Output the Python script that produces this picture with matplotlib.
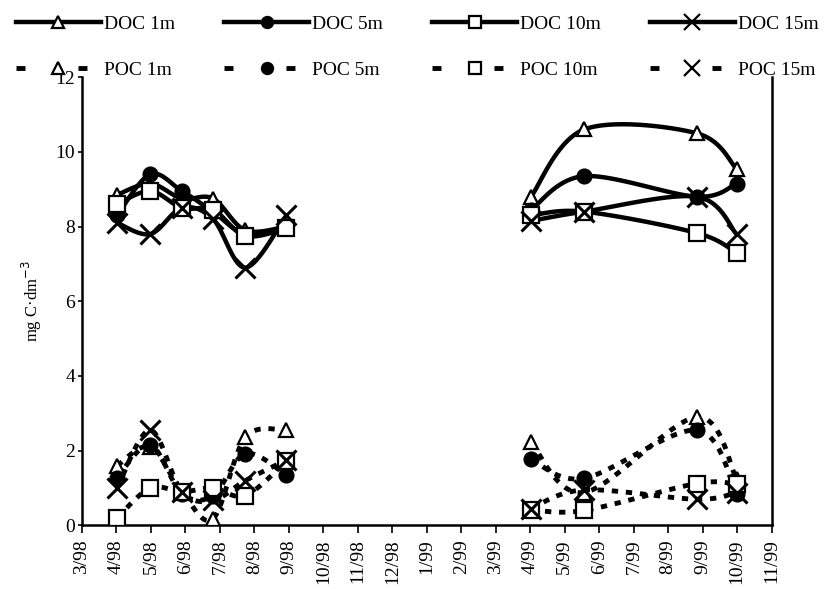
import numpy as np
import matplotlib
matplotlib.use('Agg')
import matplotlib.pyplot as plt
from matplotlib.lines import Line2D

# ---------------------------------------------------------
# Data (month index: 0 = 3/98 ... 20 = 11/99)
# first 6 samples are 1998, last 4 are 1999
# ---------------------------------------------------------
months = [1.02, 1.98, 2.9, 3.8, 4.74, 5.93, 13.02, 14.56, 17.82, 18.98]
split = 6

doc_1m = [8.85, 9.15, 8.75, 8.75, 7.9, 8.0, 8.8, 10.6, 10.5, 9.55]
doc_5m = [8.3, 9.4, 8.95, 8.4, 7.8, 8.0, 8.45, 9.35, 8.8, 9.15]
doc_10m = [8.6, 8.95, 8.5, 8.45, 7.75, 7.95, 8.3, 8.4, 7.83, 7.3]
doc_15m = [8.1, 7.8, 8.5, 8.2, 6.9, 8.3, 8.15, 8.4, 8.8, 7.8]

poc_1m = [1.6, 2.1, 0.9, 0.18, 2.36, 2.55, 2.22, 0.88, 2.9, 1.25]
poc_5m = [1.28, 2.15, 0.85, 0.8, 1.92, 1.35, 1.78, 1.26, 2.55, 0.85]
poc_10m = [0.2, 1.0, 0.9, 1.0, 0.8, 1.72, 0.42, 0.4, 1.12, 1.1]
poc_15m = [1.0, 2.55, 0.9, 0.67, 1.2, 1.75, 0.45, 0.95, 0.7, 0.88]

tick_labels = ['3/98', '4/98', '5/98', '6/98', '7/98', '8/98', '9/98', '10/98',
               '11/98', '12/98', '1/99', '2/99', '3/99', '4/99', '5/99', '6/99',
               '7/99', '8/99', '9/99', '10/99', '11/99']


def smooth(x, y, n=25):
    # Excel-like smoothed line: cubic Bezier between points
    pts = np.column_stack([x, y])
    out = []
    for i in range(len(pts) - 1):
        p0 = pts[max(i - 1, 0)]
        p1 = pts[i]
        p2 = pts[i + 1]
        p3 = pts[min(i + 2, len(pts) - 1)]
        c1 = p1 + (p2 - p0) / 6
        c2 = p2 - (p3 - p1) / 6
        t = np.linspace(0, 1, n)[:, None]
        seg = (1 - t) ** 3 * p1 + 3 * (1 - t) ** 2 * t * c1 + 3 * (1 - t) * t ** 2 * c2 + t ** 3 * p2
        out.append(seg if i == 0 else seg[1:])
    return np.vstack(out)


plt.rcParams['font.family'] = ['Liberation Serif', 'DejaVu Serif']

fig = plt.figure(figsize=(8.28, 5.89), dpi=100)
ax = fig.add_axes([0.099, 0.108, 0.833, 0.761])

series = [
    ('DOC 1m', doc_1m, '^', 'white', 10, 'solid'),
    ('DOC 5m', doc_5m, 'o', 'black', 10, 'solid'),
    ('DOC 10m', doc_10m, 's', 'white', 11, 'solid'),
    ('DOC 15m', doc_15m, 'x', 'black', 15, 'solid'),
    ('POC 1m', poc_1m, '^', 'white', 10, 'dashed'),
    ('POC 5m', poc_5m, 'o', 'black', 10, 'dashed'),
    ('POC 10m', poc_10m, 's', 'white', 11, 'dashed'),
    ('POC 15m', poc_15m, 'x', 'black', 15, 'dashed'),
]

x = np.array(months)
handles = {}
for name, vals, mk, fc, ms, style in series:
    v = np.array(vals)
    for sl in (slice(0, split), slice(split, None)):
        curve = smooth(x[sl], v[sl])
        if style == 'solid':
            ax.plot(curve[:, 0], curve[:, 1], color='black', lw=3.2,
                    solid_capstyle='round', zorder=2)
        else:
            ax.plot(curve[:, 0], curve[:, 1], color='black', lw=3.5,
                    linestyle=(0, (1.3, 1.6)), dash_capstyle='butt', zorder=2)
        ax.plot(x[sl], v[sl], linestyle='none', marker=mk, markersize=ms,
                markerfacecolor=fc, markeredgecolor='black',
                markeredgewidth=2.2 if mk == 'x' else 1.6, zorder=3)
    if style == 'solid':
        h = Line2D([], [], color='black', lw=3.2, marker=mk, markersize=ms * 0.8,
                   markerfacecolor=fc, markeredgecolor='black', markeredgewidth=1.6)
    else:
        h = Line2D([], [], color='black', lw=3.5, linestyle=(0, (1.85, 10.9)),
                   dash_capstyle='butt', marker=mk, markersize=ms * 0.8,
                   markerfacecolor=fc, markeredgecolor='black', markeredgewidth=1.6)
    handles[name] = h

# axes styling
ax.set_xlim(0, 20)
ax.set_ylim(0, 12)
ax.set_xticks(range(21))
ax.set_xticklabels(tick_labels, rotation=90, fontsize=14)
ax.set_yticks(range(0, 13, 2))
ax.set_yticklabels([str(v) for v in range(0, 13, 2)], fontsize=14)
ax.tick_params(axis='x', direction='out', length=6, width=1.2, pad=4)
ax.tick_params(axis='y', direction='out', length=3, width=1.2, pad=2)
ax.spines['top'].set_visible(False)
for s in ('left', 'bottom', 'right'):
    ax.spines[s].set_linewidth(1.8)
ax.set_ylabel('mg C·dm$^{-3}$', fontsize=12, labelpad=8)

order = ['DOC 1m', 'POC 1m', 'DOC 5m', 'POC 5m', 'DOC 10m', 'POC 10m', 'DOC 15m', 'POC 15m']
fig.legend([handles[k] for k in order], order, ncol=4, loc='upper left',
           bbox_to_anchor=(0.0, 1.0), frameon=False, fontsize=14,
           handlelength=4.4, handletextpad=0.15, columnspacing=2.5,
           labelspacing=1.45, borderpad=0.3)

plt.savefig('out.png', dpi=100)
